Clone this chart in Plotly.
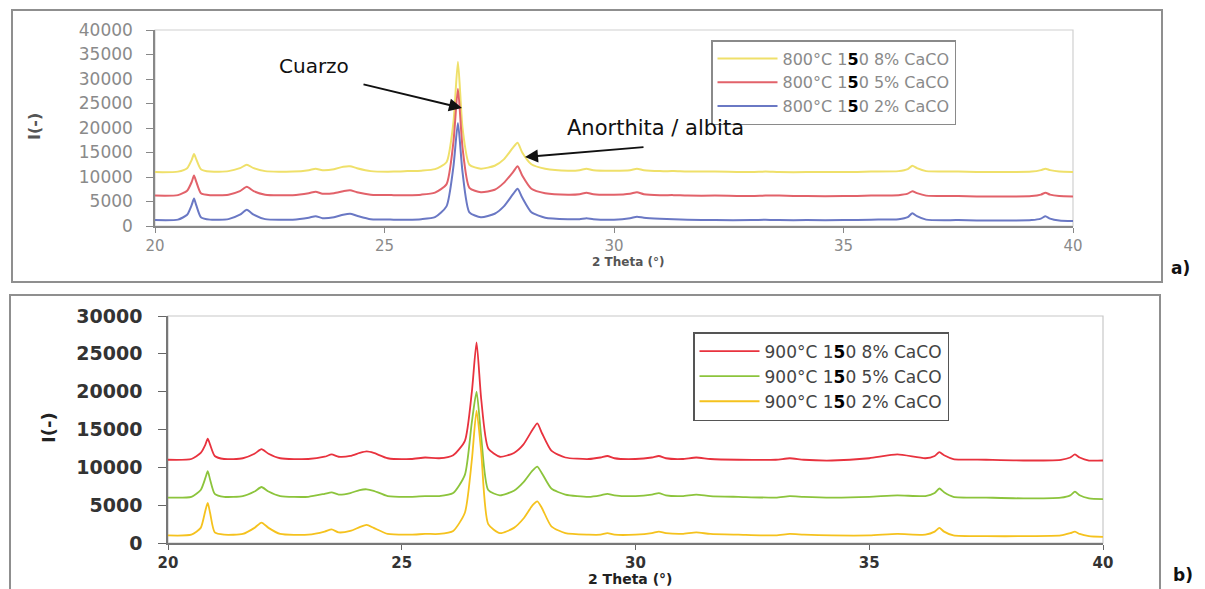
import plotly.graph_objects as go

W, H = 1205, 589

# 2-theta sampling points (degrees)
two_theta = [20.0, 20.5, 20.7, 20.8, 20.85, 20.9, 21.0, 21.2, 21.6, 21.85,
             22.0, 22.15, 22.4, 23.0, 23.35, 23.5, 23.65, 23.9, 24.1, 24.25,
             24.4, 24.7, 25.2, 25.5, 25.8, 26.1, 26.35, 26.5, 26.6, 26.7,
             26.85, 27.1, 27.4, 27.6, 27.8, 27.9, 28.0, 28.2, 28.5, 29.0,
             29.25, 29.4, 29.55, 30.0, 30.35, 30.5, 30.65, 31.0, 31.3, 31.6,
             32.2, 33.0, 33.3, 33.6, 34.2, 35.0, 35.6, 36.2, 36.4, 36.5,
             36.6, 36.8, 37.5, 38.3, 39.1, 39.3, 39.4, 39.5, 39.7, 40.0]

# Panel a) 800 °C
a_8 = [11000, 11100, 11800, 13500, 14700, 13600, 11600, 11100, 11200, 11800,
       12500, 11800, 11200, 11100, 11400, 11700, 11400, 11600, 12100, 12200,
       11800, 11200, 11100, 11200, 11300, 11600, 13000, 21000, 33500, 20000,
       12500, 11700, 12300, 13600, 16000, 17000, 15000, 12600, 11700, 11300,
       11400, 11700, 11400, 11300, 11400, 11700, 11400, 11200, 11200, 11100,
       11100, 11000, 11100, 11000, 11000, 11000, 11100, 11200, 11600, 12300,
       11800, 11200, 11100, 11000, 11100, 11400, 11700, 11400, 11100, 11000]
a_5 = [6200, 6300, 7200, 9000, 10300, 9000, 6700, 6300, 6400, 7100,
       8000, 7100, 6400, 6300, 6700, 7000, 6600, 6700, 7100, 7300,
       6900, 6400, 6300, 6300, 6400, 6800, 8500, 17000, 28000, 16000,
       7800, 6900, 7400, 8800, 11000, 12200, 10300, 7600, 6700, 6400,
       6500, 6800, 6500, 6400, 6600, 6900, 6500, 6300, 6300, 6200,
       6200, 6100, 6200, 6200, 6100, 6100, 6200, 6300, 6600, 7100,
       6700, 6200, 6100, 6000, 6100, 6400, 6800, 6400, 6100, 6000]
a_2 = [1200, 1300, 2300, 4300, 5600, 4200, 1800, 1300, 1400, 2300,
       3300, 2300, 1400, 1300, 1700, 2000, 1600, 1800, 2300, 2500,
       2100, 1400, 1300, 1300, 1400, 1800, 4000, 12000, 21000, 11000,
       2800, 1800, 2500, 4000, 6500, 7600, 5800, 2800, 1700, 1400,
       1400, 1600, 1400, 1300, 1600, 1900, 1700, 1500, 1400, 1300,
       1200, 1200, 1300, 1200, 1200, 1200, 1300, 1400, 1800, 2600,
       2000, 1300, 1200, 1100, 1200, 1500, 2000, 1500, 1100, 1000]

# Panel b) 900 °C
b_8 = [11000, 11100, 11900, 13000, 13800, 13000, 11500, 11100, 11200, 11800,
       12400, 11800, 11200, 11100, 11400, 11700, 11400, 11500, 11900, 12100,
       11900, 11200, 11100, 11300, 11200, 11600, 13500, 20000, 26500, 19000,
       12500, 11400, 11900, 13000, 15000, 15800, 14500, 12200, 11300, 11100,
       11300, 11500, 11200, 11100, 11300, 11500, 11200, 11100, 11300, 11100,
       11000, 11000, 11200, 11000, 10900, 11200, 11700, 11200, 11500, 12000,
       11600, 11100, 11000, 10900, 11000, 11300, 11700, 11300, 10900, 10900]
b_5 = [6000, 6100, 7000, 8600, 9500, 8400, 6500, 6100, 6200, 6800,
       7400, 6800, 6200, 6100, 6500, 6700, 6400, 6600, 7000, 7100,
       6900, 6200, 6100, 6200, 6200, 6600, 9000, 16000, 20000, 14000,
       7000, 6300, 6900, 8000, 9600, 10100, 9200, 7200, 6400, 6100,
       6300, 6500, 6300, 6200, 6400, 6600, 6300, 6200, 6400, 6200,
       6100, 6000, 6200, 6100, 6000, 6100, 6300, 6200, 6600, 7200,
       6700, 6100, 6000, 5900, 6000, 6300, 6800, 6300, 5900, 5800]
b_2 = [1000, 1100, 2000, 4300, 5300, 4000, 1400, 1100, 1200, 2000,
       2700, 2000, 1200, 1100, 1500, 1800, 1400, 1600, 2100, 2400,
       2000, 1200, 1100, 1200, 1200, 1600, 4000, 11000, 17500, 12000,
       2500, 1300, 2000, 3200, 5000, 5500, 4600, 2200, 1300, 1100,
       1100, 1300, 1100, 1100, 1300, 1500, 1300, 1200, 1400, 1200,
       1100, 1000, 1200, 1100, 1000, 1000, 1200, 1100, 1500, 2000,
       1500, 1000, 900, 900, 1000, 1300, 1500, 1200, 900, 800]

B5 = "1<b><span style='color:#000'>5</span></b>0"
names_a = [f"800°C {B5} 8% CaCO", f"800°C {B5} 5% CaCO", f"800°C {B5} 2% CaCO"]
names_b = [f"900°C {B5} 8% CaCO", f"900°C {B5} 5% CaCO", f"900°C {B5} 2% CaCO"]

x_ticks = [20, 25, 30, 35, 40]
ya_ticks = [0, 5000, 10000, 15000, 20000, 25000, 30000, 35000, 40000]
yb_ticks = [0, 5000, 10000, 15000, 20000, 25000, 30000]

cols_a = ["#efe06a", "#e2626a", "#6a78c4"]
cols_b = ["#e8323e", "#8cc43c", "#f5c21e"]

def px(x):
    return x / W

def py(y):
    return 1 - y / H

fig = go.Figure()
for ys, nm, c in zip([a_8, a_5, a_2], names_a, cols_a):
    fig.add_trace(go.Scatter(x=two_theta, y=ys, name=nm, mode="lines",
                             line=dict(color=c, width=2, shape="spline", smoothing=0.6),
                             xaxis="x", yaxis="y", legend="legend"))
for ys, nm, c in zip([b_8, b_5, b_2], names_b, cols_b):
    fig.add_trace(go.Scatter(x=two_theta, y=ys, name=nm, mode="lines",
                             line=dict(color=c, width=1.8, shape="spline", smoothing=0.6),
                             xaxis="x2", yaxis="y2", legend="legend2"))

FONT = "DejaVu Sans"
fig.update_layout(
    width=W, height=H, autosize=False,
    margin=dict(l=0, r=0, t=0, b=0, pad=0, autoexpand=False),
    paper_bgcolor="white", plot_bgcolor="white",
    font=dict(family=FONT),
    xaxis=dict(domain=[px(155), px(1073)], anchor="y", range=[20, 40],
               tickvals=x_ticks, tickformat="d", ticks="outside", ticklen=5, tickcolor="#888",
               showline=True, linecolor="#888", linewidth=1.5, showgrid=False,
               zeroline=False, automargin=False, tickfont=dict(size=15, color="#8a8a8a")),
    yaxis=dict(domain=[py(226), py(30)], anchor="x", range=[0, 40000],
               tickvals=ya_ticks, tickformat="d", ticks="outside", ticklen=7, tickcolor="#888",
               ticklabelstandoff=10,
               showline=True, linecolor="#888", linewidth=1.5, showgrid=False,
               zeroline=False, automargin=False, tickfont=dict(size=17, color="#8a8a8a")),
    xaxis2=dict(domain=[px(168), px(1103)], anchor="y2", range=[20, 40],
                tickvals=x_ticks, tickformat="d", ticks="outside", ticklen=5, tickcolor="#666",
                showline=True, linecolor="#777", linewidth=1.5, showgrid=False,
                zeroline=False, automargin=False,
                tickfont=dict(size=15, color="#333", weight="bold")),
    yaxis2=dict(domain=[py(543), py(316)], anchor="x2", range=[0, 30000],
                tickvals=yb_ticks, tickformat="d", ticks="outside", ticklen=8, tickcolor="#666",
                ticklabelstandoff=12,
                showline=True, linecolor="#777", linewidth=1.5, showgrid=False,
                zeroline=False, automargin=False,
                tickfont=dict(size=19, color="#333", weight="bold")),
    legend=dict(x=px(711), y=py(40), xanchor="left", yanchor="top",
                bgcolor="white", bordercolor="#8a8a8a", borderwidth=1.5,
                itemwidth=60, font=dict(size=16, color="#8a8a8a")),
    legend2=dict(x=px(693), y=py(332), xanchor="left", yanchor="top",
                 bgcolor="white", bordercolor="#555", borderwidth=1.5,
                 itemwidth=60, font=dict(size=17, color="#444")),
    showlegend=True,
)

# panel frames and plot-area borders
fig.add_shape(type="rect", xref="paper", yref="paper", x0=px(12), x1=px(1162),
              y0=py(282), y1=py(10), line=dict(color="#8f8f8f", width=2), layer="below")
fig.add_shape(type="rect", xref="paper", yref="paper", x0=px(10), x1=px(1160),
              y0=-0.05, y1=py(295), line=dict(color="#8f8f8f", width=2), layer="below")
fig.add_shape(type="rect", xref="x domain", yref="y domain", x0=0, x1=1, y0=0, y1=1,
              line=dict(color="#d0d0d0", width=1.2), layer="below")
fig.add_shape(type="rect", xref="x2 domain", yref="y2 domain", x0=0, x1=1, y0=0, y1=1,
              line=dict(color="#c8c8c8", width=1.2), layer="below")

def label(text, x, y, size, color, angle=0):
    return dict(text=text, x=px(x), y=py(y), xref="paper", yref="paper",
                xanchor="center", yanchor="middle", showarrow=False,
                textangle=angle, font=dict(size=size, color=color))

ann = [
    label("<b>2 Theta (°)</b>", 628, 262, 12, "#555"),
    label("<b>2 Theta (°)</b>", 630, 579, 14, "#222"),
    label("<b>I(-)</b>", 34, 127, 16, "#555", -90),
    label("<b>I(-)</b>", 48, 428, 18, "#222", -90),
    label("<b>a)</b>", 1180, 268, 17, "#111"),
    label("<b>b)</b>", 1183, 575, 17, "#111"),
    label("Cuarzo", 314, 66, 20, "#111"),
    label("Anorthita / albita", 655, 128, 21, "#111"),
    dict(text="", x=px(462), y=py(108), xref="paper", yref="paper",
         showarrow=True, ax=-100, ay=-24, arrowhead=2, arrowsize=1.3,
         arrowwidth=2, arrowcolor="#111"),
    dict(text="", x=px(525), y=py(157), xref="paper", yref="paper",
         showarrow=True, ax=120, ay=-10, arrowhead=2, arrowsize=1.3,
         arrowwidth=2, arrowcolor="#111"),
]
fig.update_layout(annotations=ann)

fig.write_html("out.html", config={"responsive": False})
